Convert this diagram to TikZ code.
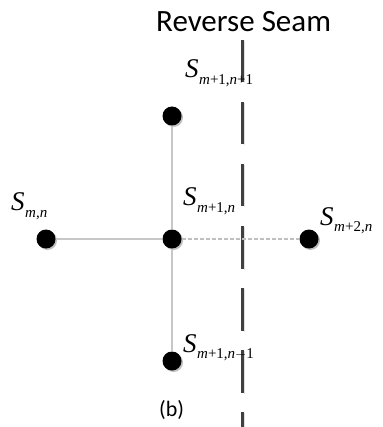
\documentclass[tikz,border=0pt]{standalone}
\usepackage{fontspec}
\setmainfont{Liberation Serif}
\newfontfamily\seamfont{Carlito}
\newcommand{\slab}[1]{{\fontsize{27}{27}\selectfont\itshape S}\kern0.5pt\raisebox{-6.5pt}{\fontsize{15}{15}\selectfont #1}}
\begin{document}
\begin{tikzpicture}[x=1pt,y=-1pt,
  dot/.style={circle,fill=black,minimum size=19pt,inner sep=0pt,draw=none},
  shadowdot/.style={circle,fill=black!25,minimum size=19pt,inner sep=0pt,draw=none},
  edge/.style={draw=black!22,line width=1.2pt},
  dedge/.style={draw=black!25,line width=1.1pt,dash pattern=on 4pt off 2pt},
  seam/.style={draw=black!75,line width=3pt,dash pattern=on 42.5pt off 19.5pt},
  seamshadow/.style={draw=black!12,line width=1.5pt,dash pattern=on 42.5pt off 19.5pt},
  lab/.style={inner sep=0pt,anchor=base west}]
\useasboundingbox (0,0) rectangle (382,427);
\fill[white] (0,0) rectangle (382,427);
% seam
\coordinate (s0) at (242,40);
\coordinate (s1) at (242,440);
\coordinate (t0) at (244.5,41);
\coordinate (t1) at (244.5,441);
\draw[seamshadow] (t0) -- (t1);
\draw[seam] (s0) -- (s1);
% shadows of dots
\node[shadowdot] at (47.5,240.5) {};
\node[shadowdot] at (173.5,240.5) {};
\node[shadowdot] at (310.5,240.5) {};
\node[shadowdot] at (173.5,117.5) {};
\node[shadowdot] at (173.5,362.5) {};
% nodes
\node[dot] (a) at (46,239) {};
\node[dot] (b) at (172,239) {};
\node[dot] (c) at (309,239) {};
\node[dot] (d) at (172,116) {};
\node[dot] (e) at (172,361) {};
% edges
\draw[edge] (a) -- (b);
\draw[edge] (d) -- (b);
\draw[edge] (b) -- (e);
\draw[dedge] (b) -- (c);
% labels
\node[lab] (la) at (11,211) {\slab{\textit{m},\textit{n}}};
\node[lab] (lb) at (183,206) {\slab{\textit{m}+1,\textit{n}}};
\node[lab] (lc) at (320,225) {\slab{\textit{m}+2,\textit{n}}};
\node[lab] (ld) at (185,78) {\slab{\textit{m}+1,\textit{n}+1}};
\node[lab] (le) at (183,352) {\slab{\textit{m}+1,\textit{n}$-$1}};
\node[lab] (title) at (156,32) {\seamfont\fontsize{31}{31}\selectfont Reverse Seam};
\node[lab] (cap) at (159,416) {\seamfont\fontsize{22}{22}\selectfont (b)};
\end{tikzpicture}
\end{document}
